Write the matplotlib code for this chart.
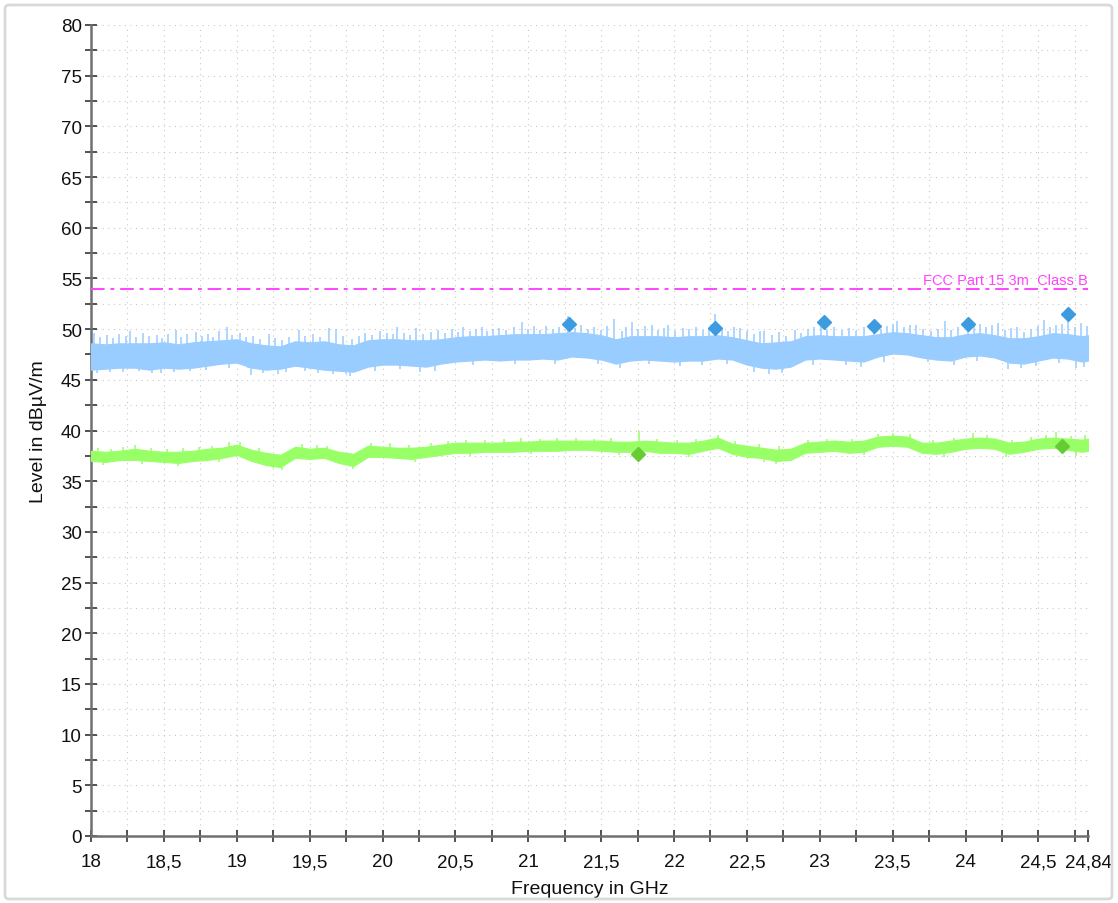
import matplotlib
matplotlib.use("Agg")
import matplotlib.pyplot as plt
from matplotlib.patches import FancyBboxPatch
from matplotlib.ticker import MultipleLocator, FixedLocator, FixedFormatter
import numpy as np

plt.rcParams['font.family'] = ['Liberation Sans', 'DejaVu Sans']

# ---- data ----
freq_grid = [18.0, 18.1, 18.2, 18.3, 18.4, 18.5, 18.6, 18.7, 18.8, 18.9,
             19.0, 19.1, 19.2, 19.3, 19.4, 19.5, 19.6, 19.7, 19.8, 19.9,
             20.0, 20.1, 20.2, 20.3, 20.4, 20.5, 20.6, 20.7, 20.8, 20.9,
             21.0, 21.1, 21.2, 21.3, 21.4, 21.5, 21.6, 21.7, 21.8, 21.9,
             22.0, 22.1, 22.2, 22.3, 22.4, 22.5, 22.6, 22.7, 22.8, 22.9,
             23.0, 23.1, 23.2, 23.3, 23.4, 23.5, 23.6, 23.7, 23.8, 23.9,
             24.0, 24.1, 24.2, 24.3, 24.4, 24.5, 24.6, 24.7, 24.8, 24.84]

peak_upper = [48.6, 48.5, 48.6, 48.6, 48.6, 48.7, 48.5, 48.7, 48.8, 48.9,
              49.0, 48.6, 48.4, 48.3, 48.8, 48.7, 48.8, 48.5, 48.4, 48.9,
              49.0, 49.0, 48.9, 48.9, 49.0, 49.2, 49.3, 49.3, 49.4, 49.5,
              49.5, 49.5, 49.6, 49.7, 49.6, 49.4, 49.0, 49.3, 49.3, 49.3,
              49.2, 49.3, 49.3, 49.4, 49.2, 48.9, 48.6, 48.7, 48.8, 49.3,
              49.4, 49.3, 49.3, 49.3, 49.5, 49.7, 49.6, 49.4, 49.2, 49.2,
              49.5, 49.6, 49.4, 49.1, 49.1, 49.3, 49.6, 49.5, 49.3, 49.4]
peak_lower = [46.0, 46.1, 46.2, 46.2, 46.0, 46.2, 46.1, 46.2, 46.4, 46.6,
              46.7, 46.2, 46.0, 46.1, 46.4, 46.2, 46.0, 45.9, 45.8, 46.3,
              46.5, 46.5, 46.4, 46.3, 46.6, 46.8, 46.9, 47.0, 46.9, 47.0,
              47.0, 47.1, 47.0, 47.3, 47.2, 47.0, 46.6, 46.9, 47.0, 46.9,
              46.8, 46.9, 46.9, 47.1, 47.0, 46.5, 46.2, 46.1, 46.3, 47.0,
              47.1, 47.0, 46.9, 46.8, 47.3, 47.6, 47.5, 47.2, 47.0, 46.9,
              47.3, 47.4, 47.2, 46.7, 46.6, 46.9, 47.2, 47.1, 46.8, 46.9]

avg_upper = [38.0, 37.9, 38.0, 38.2, 38.0, 37.9, 37.9, 38.0, 38.2, 38.3,
             38.6, 38.1, 37.8, 37.6, 38.4, 38.2, 38.3, 37.9, 37.7, 38.5,
             38.4, 38.3, 38.3, 38.4, 38.6, 38.8, 38.8, 38.8, 38.8, 38.9,
             38.9, 39.0, 39.0, 39.0, 39.0, 39.0, 38.9, 38.9, 39.0, 38.9,
             38.8, 38.8, 39.0, 39.3, 38.7, 38.5, 38.3, 38.1, 38.2, 38.8,
             38.9, 39.0, 38.9, 39.0, 39.4, 39.5, 39.4, 38.8, 38.8, 39.0,
             39.2, 39.3, 39.2, 38.8, 38.9, 39.2, 39.3, 39.2, 39.1, 39.2]
avg_lower = [37.0, 36.9, 37.1, 37.1, 37.0, 36.9, 36.8, 37.0, 37.1, 37.3,
             37.6, 37.0, 36.6, 36.4, 37.3, 37.2, 37.3, 36.8, 36.5, 37.4,
             37.4, 37.3, 37.2, 37.4, 37.6, 37.8, 37.8, 37.9, 37.9, 37.9,
             38.0, 38.0, 38.0, 38.1, 38.1, 38.0, 37.9, 37.9, 38.0, 37.8,
             37.8, 37.7, 38.0, 38.3, 37.7, 37.4, 37.3, 37.0, 37.1, 37.8,
             37.9, 38.0, 37.8, 37.9, 38.4, 38.5, 38.4, 37.8, 37.7, 37.9,
             38.2, 38.3, 38.2, 37.7, 37.9, 38.2, 38.3, 38.1, 37.9, 38.0]

# spikes of the peak trace above its dense band (GHz, dBuV/m)
peak_spike_freq = [18.02, 18.06, 18.11, 18.15, 18.19, 18.24, 18.27, 18.31, 18.36, 18.40,
                   18.45, 18.49, 18.53, 18.58, 18.62, 18.66, 18.72, 18.76, 18.80, 18.84,
                   18.88, 18.93, 18.97, 19.02, 19.06, 19.11, 19.16, 19.22, 19.26, 19.31,
                   19.36, 19.43, 19.47, 19.52, 19.57, 19.63, 19.68, 19.73, 19.79, 19.84,
                   19.88, 19.93, 19.98, 20.03, 20.07, 20.10, 20.15, 20.19, 20.23, 20.28,
                   20.33, 20.38, 20.43, 20.48, 20.52, 20.55, 20.60, 20.64, 20.68, 20.72,
                   20.76, 20.80, 20.85, 20.90, 20.96, 21.00, 21.04, 21.08, 21.12, 21.17,
                   21.21, 21.27, 21.32, 21.36, 21.41, 21.45, 21.50, 21.54, 21.59, 21.64,
                   21.67, 21.71, 21.75, 21.80, 21.85, 21.89, 21.93, 21.96, 22.01, 22.06,
                   22.10, 22.15, 22.20, 22.24, 22.28, 22.33, 22.37, 22.41, 22.45, 22.50,
                   22.55, 22.59, 22.62, 22.67, 22.72, 22.77, 22.83, 22.87, 22.92, 22.96,
                   23.01, 23.05, 23.10, 23.15, 23.20, 23.25, 23.30, 23.37, 23.42, 23.46,
                   23.50, 23.53, 23.58, 23.62, 23.66, 23.71, 23.76, 23.81, 23.86, 23.90,
                   23.95, 24.02, 24.06, 24.10, 24.14, 24.18, 24.22, 24.27, 24.31, 24.35,
                   24.40, 24.45, 24.50, 24.54, 24.58, 24.62, 24.66, 24.70, 24.75, 24.79,
                   24.83]
peak_spike_level = [49.6, 49.2, 49.4, 49.1, 49.5, 49.3, 49.8, 49.2, 49.6, 49.3,
                    49.4, 49.1, 49.5, 49.9, 49.2, 49.5, 49.7, 49.3, 49.5, 49.2,
                    49.8, 50.2, 49.4, 49.6, 49.2, 49.3, 49.0, 49.5, 49.1, 48.9,
                    49.2, 49.9, 49.3, 49.5, 49.2, 50.1, 50.0, 49.3, 49.0, 49.3,
                    49.6, 49.4, 49.8, 49.6, 49.5, 50.2, 49.6, 49.4, 50.1, 49.5,
                    49.7, 49.9, 49.6, 50.0, 49.7, 50.2, 49.8, 50.0, 50.2, 49.8,
                    50.0, 50.1, 49.9, 50.2, 50.7, 50.0, 50.3, 49.9, 50.3, 50.0,
                    50.2, 51.3, 50.1, 50.4, 50.0, 50.2, 49.9, 50.3, 51.0, 49.8,
                    50.2, 50.7, 50.0, 50.3, 50.4, 49.9, 50.1, 50.4, 49.8, 50.1,
                    50.0, 50.2, 49.9, 50.0, 51.5, 50.1, 49.8, 50.2, 50.1, 49.8,
                    49.5, 49.8, 49.8, 49.4, 49.7, 49.3, 49.9, 49.6, 50.0, 50.2,
                    50.8, 50.0, 50.2, 49.9, 50.1, 49.8, 50.2, 50.9, 50.0, 50.3,
                    50.5, 50.8, 50.2, 50.4, 50.4, 50.0, 49.8, 50.0, 50.8, 49.9,
                    50.2, 50.8, 50.3, 50.5, 50.2, 50.4, 50.6, 49.9, 50.1, 50.2,
                    49.7, 50.0, 50.3, 50.9, 50.2, 50.4, 50.5, 52.0, 50.2, 50.6,
                    50.3]
peak_dip_freq = [18.04, 18.13, 18.22, 18.33, 18.42, 18.48, 18.57, 18.68, 18.79, 18.95,
                 19.08, 19.10, 19.18, 19.28, 19.34, 19.47, 19.56, 19.66, 19.75, 19.78,
                 19.95, 20.12, 20.26, 20.36, 20.62, 20.91, 21.18, 21.48, 21.63, 21.83,
                 22.04, 22.19, 22.36, 22.55, 22.65, 22.74, 22.95, 23.18, 23.28, 23.44,
                 23.74, 23.92, 24.08, 24.29, 24.38, 24.48, 24.64, 24.76, 24.81]
peak_dip_level = [45.7, 45.8, 45.8, 45.9, 45.7, 45.7, 45.8, 45.9, 46.0, 46.2,
                  46.2, 45.5, 45.7, 45.6, 45.8, 45.9, 45.7, 45.6, 45.6, 45.4,
                  45.9, 46.1, 45.8, 45.9, 46.5, 46.6, 46.6, 46.6, 46.2, 46.6,
                  46.4, 46.5, 46.6, 45.8, 45.6, 45.7, 46.5, 46.5, 46.3, 46.8,
                  46.8, 46.5, 46.9, 46.1, 46.2, 46.4, 46.7, 46.2, 46.3]

avg_spike_freq = [18.05, 18.14, 18.22, 18.30, 18.41, 18.52, 18.63, 18.74, 18.83, 18.95,
                  19.02, 19.15, 19.35, 19.45, 19.55, 19.62, 19.92, 20.05, 20.18, 20.33,
                  20.45, 20.57, 20.70, 20.83, 20.95, 21.08, 21.20, 21.33, 21.45, 21.57,
                  21.76, 21.88, 22.02, 22.15, 22.30, 22.42, 22.58, 22.72, 22.92, 23.05,
                  23.22, 23.40, 23.50, 23.62, 23.78, 23.92, 24.05, 24.15, 24.32, 24.45,
                  24.55, 24.62, 24.72, 24.82]
avg_spike_level = [38.3, 38.2, 38.4, 38.6, 38.3, 38.2, 38.3, 38.4, 38.5, 38.9,
                   38.9, 38.3, 38.0, 38.7, 38.6, 38.5, 38.8, 38.8, 38.6, 38.8,
                   39.0, 39.1, 39.1, 39.2, 39.3, 39.2, 39.3, 39.3, 39.2, 39.3,
                   40.0, 39.2, 39.1, 39.2, 39.6, 39.0, 38.7, 38.5, 39.1, 39.2,
                   39.2, 39.7, 39.8, 39.7, 39.1, 39.3, 39.8, 39.6, 39.1, 39.4,
                   39.6, 39.9, 39.5, 39.6]
avg_dip_freq = [18.08, 18.35, 18.60, 18.88, 19.25, 19.31, 19.80, 20.22, 20.60, 21.02,
                21.62, 22.10, 22.62, 22.70, 23.30, 23.85, 24.28, 24.76]
avg_dip_level = [36.6, 36.7, 36.5, 36.9, 36.3, 36.1, 36.2, 36.9, 37.5, 37.7,
                 37.6, 37.4, 36.9, 36.7, 37.6, 37.4, 37.4, 37.5]

peak_marker_freq = [21.28, 22.28, 23.03, 23.37, 24.02, 24.70]
peak_marker_level = [50.5, 50.1, 50.7, 50.3, 50.5, 51.5]
avg_marker_freq = [21.75, 24.66]
avg_marker_level = [37.7, 38.5]

limit_level = 54.0
limit_label = "FCC Part 15 3m  Class B"

x_tick_vals = [18, 18.5, 19, 19.5, 20, 20.5, 21, 21.5, 22, 22.5, 23, 23.5, 24, 24.5, 24.84]
x_tick_labels = ["18", "18,5", "19", "19,5", "20", "20,5", "21", "21,5", "22", "22,5",
                 "23", "23,5", "24", "24,5", "24,84"]

# ---- colours ----
c_peak = "#99ccff"
c_peak_mk = "#3d9be0"
c_avg = "#99ff66"
c_avg_mk = "#66cc33"
c_limit = "#ff44ff"

fig = plt.figure(figsize=(11.18, 9.04), dpi=100)
ax = fig.add_axes([91/1118, 67/904, 997/1118, 811/904])

# outer frame
frame = FancyBboxPatch((5/1118, 4/904), 1107/1118, 894/904, boxstyle="round,pad=0,rounding_size=0.004",
                       transform=fig.transFigure, facecolor="none", edgecolor="#d9d9d9", lw=2)
fig.patches.append(frame)

# traces
ax.fill_between(freq_grid, peak_lower, peak_upper, color=c_peak, lw=0.8, edgecolor=c_peak, zorder=3)
ax.vlines(peak_spike_freq, np.interp(peak_spike_freq, freq_grid, peak_upper) - 0.3, peak_spike_level,
          color=c_peak, lw=1.1, zorder=3)
ax.vlines(peak_dip_freq, peak_dip_level, np.interp(peak_dip_freq, freq_grid, peak_lower) + 0.3,
          color=c_peak, lw=1.1, zorder=3)

ax.fill_between(freq_grid, avg_lower, avg_upper, color=c_avg, lw=0.8, edgecolor=c_avg, zorder=3)
ax.vlines(avg_spike_freq, np.interp(avg_spike_freq, freq_grid, avg_upper) - 0.2, avg_spike_level,
          color=c_avg, lw=1.1, zorder=3)
ax.vlines(avg_dip_freq, avg_dip_level, np.interp(avg_dip_freq, freq_grid, avg_lower) + 0.2,
          color=c_avg, lw=1.1, zorder=3)

# limit
ax.axhline(limit_level, color=c_limit, lw=1.4, ls=(0, (7, 3, 2, 3)), zorder=4)
ax.text(24.84, limit_level + 0.15, limit_label, color=c_limit, fontsize=10.5,
        ha="right", va="bottom", zorder=5)

# markers
ax.plot(peak_marker_freq, peak_marker_level, ls="none", marker="D", ms=7.5,
        color=c_peak_mk, zorder=6)
ax.plot(avg_marker_freq, avg_marker_level, ls="none", marker="D", ms=7.5,
        color=c_avg_mk, zorder=6)

# axes
ax.set_xlim(18, 24.84)
ax.set_ylim(0, 80)
for s in ["top", "right"]:
    ax.spines[s].set_visible(False)
for s in ["left", "bottom"]:
    ax.spines[s].set_color("#707070")
    ax.spines[s].set_linewidth(1.8)

ax.yaxis.set_major_locator(MultipleLocator(5))
ax.yaxis.set_minor_locator(MultipleLocator(2.5))
minor_x = [18 + 0.25 * i for i in range(28)] + [24.84]
ax.xaxis.set_major_locator(FixedLocator(x_tick_vals))
ax.xaxis.set_major_formatter(FixedFormatter(x_tick_labels))
ax.xaxis.set_minor_locator(FixedLocator(minor_x))

ax.tick_params(axis="both", which="both", direction="inout", length=9, width=1.2,
               color="#333333", labelsize=13.5, labelcolor="#111111")
ax.tick_params(axis="x", which="major", pad=8)
ax.tick_params(axis="y", which="major", pad=2)

ax.grid(True, which="both", color="#c8c8c8", ls=(0, (1, 4)), lw=0.8, zorder=0)
ax.set_axisbelow(True)

ax.set_xlabel("Frequency in GHz", fontsize=14, color="#111111")
ax.xaxis.set_label_coords(0.5, -(890 - 837) / 811, transform=ax.transAxes)
ax.xaxis.label.set_va("center")
ax.set_ylabel("Level in dBµV/m", fontsize=14, color="#111111", labelpad=10)

fig.savefig("out.png", dpi=100)
